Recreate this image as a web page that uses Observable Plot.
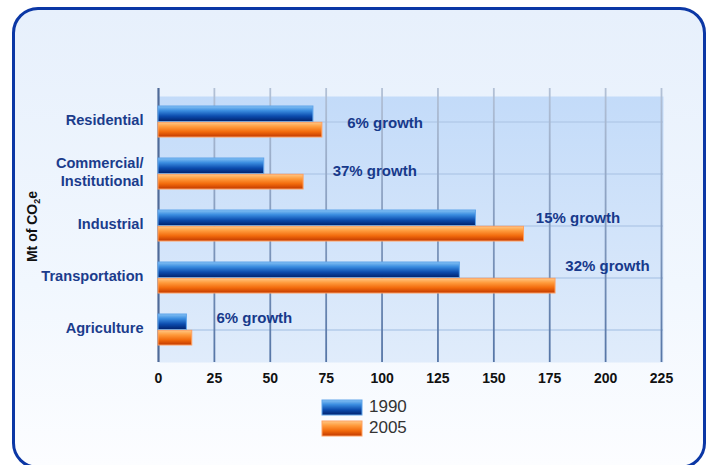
<!DOCTYPE html>
<html><head><meta charset="utf-8">
<script src="https://cdn.jsdelivr.net/npm/d3@7"></script>
<script src="https://cdn.jsdelivr.net/npm/@observablehq/plot@0.6"></script>
<style>
html,body{margin:0;padding:0;background:#fff;width:710px;height:465px;overflow:hidden;font-family:"Liberation Sans",Arial,sans-serif}
#panel{position:absolute;left:12px;top:7px;width:694px;height:462px;box-sizing:border-box;border:3px solid #0b37a5;border-radius:26px;background:linear-gradient(180deg,#e7f0fc 0%,#f1f7fe 60%,#fcfdff 100%)}
#chart{position:absolute;left:0;top:0}
#legend{position:absolute;left:322px;top:397px}
</style></head><body>
<svg width="0" height="0" style="position:absolute">
<defs>
<linearGradient id="g1990" x1="0" y1="0" x2="0" y2="1">
 <stop offset="0" stop-color="#86c2f4"/>
 <stop offset="0.3" stop-color="#3b8de0"/>
 <stop offset="0.65" stop-color="#0c4cae"/>
 <stop offset="1" stop-color="#00216c"/>
</linearGradient>
<linearGradient id="g2005" x1="0" y1="0" x2="0" y2="1">
 <stop offset="0" stop-color="#ffc784"/>
 <stop offset="0.3" stop-color="#ff9b3c"/>
 <stop offset="0.65" stop-color="#f26a0c"/>
 <stop offset="1" stop-color="#c03800"/>
</linearGradient>
<linearGradient id="wall" x1="0" y1="0" x2="0" y2="1">
 <stop offset="0" stop-color="#c3dbf9"/>
 <stop offset="1" stop-color="#e0ecfb"/>
</linearGradient>
<linearGradient id="grid" gradientUnits="userSpaceOnUse" x1="0" y1="88" x2="0" y2="362">
 <stop offset="0" stop-color="#b3c1d6"/>
 <stop offset="1" stop-color="#5575a6"/>
</linearGradient>
</defs></svg>
<div id="panel"></div>
<div id="chart"></div>
<div id="legend"></div>
<script>
// ---- data ----
const sectors = ["Residential", "Commercial/Institutional", "Industrial", "Transportation", "Agriculture"];
const v1990 = [69.3, 47.3, 142, 134.8, 12.7];
const v2005 = [73.3, 64.9, 163.5, 177.6, 15.1];
const years = ["1990", "2005"];
const growthText = ["6% growth", "37% growth", "15% growth", "32% growth", "6% growth"];
const growthAt = [84.4, 77.9, 168.8, 182, 25.9];
const xTicks = [0, 25, 50, 75, 100, 125, 150, 175, 200, 225];
const yTitleParts = ["Mt of CO", "2", "e"];

// annotation vertical nudges (px)
const growthShift = [1, -2.7, -7.5, -12, -11.4];

const rows = sectors.map((s, i) => ({sector: s, v1990: v1990[i], v2005: v2005[i]}));
const font = "'Liberation Sans', Arial, Helvetica, sans-serif";

const chart = Plot.plot({
  width: 710, height: 465,
  marginTop: 96, marginBottom: 103, marginLeft: 158, marginRight: 49,
  style: {background: "transparent", fontFamily: font, overflow: "visible"},
  x: {domain: [0, 225]},
  y: {domain: sectors, range: [95, 356], paddingInner: 0.4, paddingOuter: 0.2},
  marks: [
    Plot.frame({fill: "url(#wall)", stroke: null, insetRight: -2}),
    Plot.ruleY(sectors, {y: d => d, stroke: "#b3cbea", strokeWidth: 1.6, insetRight: -2}),
    Plot.ruleX(xTicks.slice(1), {x: d => d, stroke: "url(#grid)", strokeWidth: 1.8, insetTop: -8}),
    Plot.ruleX([0], {x: d => d, stroke: "#4f6a98", strokeWidth: 2.2, insetTop: -8}),
    Plot.barX(rows, {y: "sector", x: "v1990", fill: "url(#g1990)", stroke: "#5fa4ea", strokeWidth: 1, insetBottom: 15.5}),
    Plot.barX(rows, {y: "sector", x: "v2005", fill: "url(#g2005)", stroke: "#ffa060", strokeWidth: 1, insetTop: 16.3}),
    ...growthText.map((t, i) => Plot.text([t], {
      x: () => growthAt[i], y: () => sectors[i], text: d => d,
      textAnchor: "start", dy: growthShift[i], fontSize: 15, fontWeight: "bold", fill: "#17398b"
    })),
    Plot.axisX({ticks: xTicks, tickSize: 0, tickPadding: 11, fontSize: 14, fontWeight: "bold", color: "#111", label: null}),
    Plot.axisY({tickSize: 0, tickPadding: 15, dy: -2.5, fontSize: 14.6, fontWeight: "bold", color: "#1b3c8c", label: null,
      lineHeight: 1.18, tickFormat: d => d.replace("/", "/\n")}),
    Plot.text([yTitleParts.join("")], {frameAnchor: "left", textAnchor: "middle", dx: -126, dy: -3, rotate: -90,
      text: d => d, fontSize: 14, fontWeight: "bold", fill: "#111", className: "ytitle"})
  ]
});
document.getElementById("chart").appendChild(chart);

// render the "2" of CO2e as a true subscript
d3.select(chart).selectAll(".ytitle text").each(function () {
  const t = d3.select(this);
  t.text(null);
  t.append("tspan").text(yTitleParts[0]);
  t.append("tspan").text(yTitleParts[1]).attr("font-size", 9).attr("dy", "0.35em");
  t.append("tspan").text(yTitleParts[2]).attr("dy", "-0.25em");
});

const leg = Plot.legend({
  color: {type: "ordinal", domain: years, range: ["url(#g1990)", "url(#g2005)"]},
  legend: "swatches", swatchWidth: 40, swatchHeight: 15, columns: 1,
  style: {fontSize: "17px", fontFamily: font, color: "#333", background: "transparent"}
});
document.getElementById("legend").appendChild(leg);
d3.select(leg).selectAll("svg").style("margin-right", "7px");
d3.select(leg).selectAll("svg rect").attr("stroke", (d, i) => i === 0 ? "#5fa4ea" : "#ffa060");
</script>
</body></html>
